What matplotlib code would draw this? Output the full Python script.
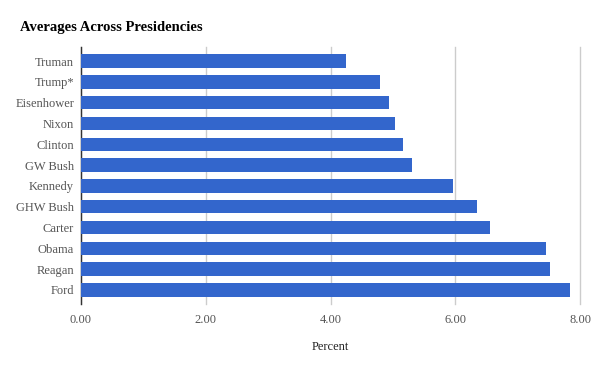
import matplotlib
matplotlib.use("Agg")
import matplotlib.pyplot as plt
import numpy as np

# values
presidents = ['Truman', 'Trump*', 'Eisenhower', 'Nixon', 'Clinton', 'GW Bush',
              'Kennedy', 'GHW Bush', 'Carter', 'Obama', 'Reagan', 'Ford']
averages = [4.25, 4.79, 4.93, 5.03, 5.17, 5.30, 5.96, 6.35, 6.55, 7.46, 7.52, 7.84]
xticks = [0, 2, 4, 6, 8]
xtick_labels = ['0.00', '2.00', '4.00', '6.00', '8.00']

plt.rcParams['font.family'] = ['Liberation Serif', 'DejaVu Serif']

fig = plt.figure(figsize=(6, 3.71), dpi=100)
ax = fig.add_axes([81 / 600, 1 - 304 / 371, 499 / 600, 257 / 371])

y = np.arange(len(presidents))
ax.barh(y, averages, height=0.65, color='#3366cc', zorder=3)

ax.set_xlim(0, 8)
ax.set_ylim(len(presidents) - 0.5 + 0.18, -0.5 - 0.18)
ax.set_yticks(y)
ax.set_yticklabels(presidents)
ax.set_xticks(xticks)
ax.set_xticklabels(xtick_labels)

ax.grid(axis='x', color='#cccccc', linewidth=1, zorder=0)
for line in ax.get_xgridlines():
    line.set_clip_on(False)
for s in ['top', 'right', 'bottom']:
    ax.spines[s].set_visible(False)
ax.spines['left'].set_color('#333333')
ax.spines['left'].set_linewidth(1)
ax.tick_params(length=0, labelsize=9, colors='#555555')
ax.tick_params(axis='y', pad=5)
ax.tick_params(axis='x', pad=7)

ax.set_xlabel('Percent', fontsize=9, color='#222222', labelpad=11)
fig.text(20 / 600, 1 - 27 / 371, 'Averages Across Presidencies', fontsize=10.5,
         fontweight='bold', color='#000000', va='center', ha='left')

fig.savefig('out.png', dpi=100)
